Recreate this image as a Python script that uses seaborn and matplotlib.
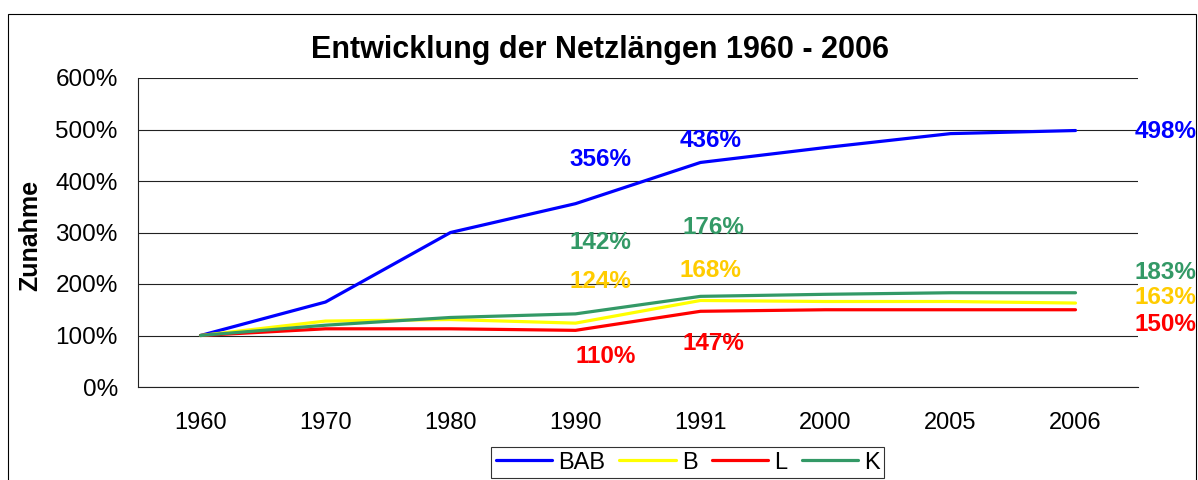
import numpy as np
import pandas as pd
import seaborn as sns
import matplotlib.pyplot as plt
from matplotlib.patches import Rectangle

sns.set_style('white')
plt.rcParams['font.family'] = ['Liberation Sans', 'DejaVu Sans']
plt.rcParams.update({'text.color': 'black', 'axes.labelcolor': 'black',
                     'xtick.color': 'black', 'ytick.color': 'black'})

years = ["1960", "1970", "1980", "1990", "1991", "2000", "2005", "2006"]
bab = [100, 165, 300, 356, 436, 465, 492, 498]
b = [100, 128, 131, 124, 168, 166, 166, 163]
l = [100, 113, 113, 110, 147, 150, 150, 150]
k = [100, 120, 135, 142, 176, 180, 183, 183]

series = {"BAB": bab, "B": b, "L": l, "K": k}
line_colors = {"BAB": "#0000FF", "B": "#FFFF00", "L": "#FF0000", "K": "#339966"}
text_colors = {"BAB": "#0000FF", "B": "#FFCC00", "L": "#FF0000", "K": "#339966"}

# which points get a value label, and where the label sits (x index, y)
label_pos = {
    ("BAB", 3): (3.20, 441), ("BAB", 4): (4.08, 478), ("BAB", 7): (7.72, 497),
    ("K", 3): (3.20, 280), ("K", 4): (4.10, 309), ("K", 7): (7.72, 223),
    ("B", 3): (3.20, 204), ("B", 4): (4.08, 227), ("B", 7): (7.72, 173),
    ("L", 3): (3.24, 60), ("L", 4): (4.10, 85), ("L", 7): (7.72, 122),
}

df = pd.concat(
    [pd.DataFrame({"Jahr": years, "Wert": v, "Netz": n}) for n, v in series.items()],
    ignore_index=True)

fig = plt.figure(figsize=(11.98, 4.8), dpi=100)
ax = fig.add_axes([138 / 1198, 1 - 387 / 480, 1000 / 1198, 309 / 480])

sns.lineplot(data=df, x="Jahr", y="Wert", hue="Netz", palette=line_colors,
             linewidth=2.3, ax=ax, sort=False)

for (name, i), (tx, ty) in label_pos.items():
    ax.text(tx, ty, f"{series[name][i]}%", color=text_colors[name],
            fontsize=17.5, fontweight='bold', ha='center', va='center', clip_on=False)

ax.set_xlim(-0.5, 7.5)
ax.set_ylim(0, 600)
ax.set_yticks(np.arange(0, 601, 100))
ax.set_yticklabels([f"{v}%" for v in range(0, 601, 100)])
ax.yaxis.grid(True, color='#222222', linewidth=0.8)
ax.set_axisbelow(True)
ax.set_xticks(range(len(years)))
ax.set_xticklabels(years)
ax.set_xticks(np.arange(-0.5, 8, 1), minor=True)
ax.tick_params(axis='x', which='major', length=0, pad=18, labelsize=17)
ax.tick_params(axis='x', which='minor', length=5, width=0.8, direction='out', color='#333333')
ax.tick_params(axis='y', length=5.5, width=0.8, direction='out', pad=9, labelsize=17.5, color='#333333')
for s in ['top', 'right']:
    ax.spines[s].set_visible(False)
for s in ['left', 'bottom']:
    ax.spines[s].set_color('#222222')
    ax.spines[s].set_linewidth(0.8)

ax.set_xlabel(None)
ax.set_ylabel("Zunahme", fontsize=18, fontweight='bold')
ax.yaxis.set_label_coords(-0.096, 0.49)

fig.text(0.501, 1 - 50 / 480, "Entwicklung der Netzlängen 1960 - 2006",
         fontsize=22, fontweight='bold', ha='center', va='center')

handles, labels = ax.get_legend_handles_labels()
ax.legend_.remove()
leg = fig.legend(handles, labels, loc='upper center', bbox_to_anchor=(0.574, 1 - 447 / 480),
                 ncol=4, fontsize=17, frameon=True, fancybox=False, edgecolor='black',
                 handlelength=2.4, handletextpad=0.25, columnspacing=0.6,
                 borderpad=0.2, borderaxespad=0)
leg.get_frame().set_linewidth(0.8)

fig.patches.append(Rectangle((8 / 1198, -0.2), 1188 / 1198, 0.2 + 1 - 14 / 480,
                             transform=fig.transFigure, fill=False, edgecolor='black',
                             linewidth=0.8, zorder=0))

fig.savefig('out.png', dpi=100)
